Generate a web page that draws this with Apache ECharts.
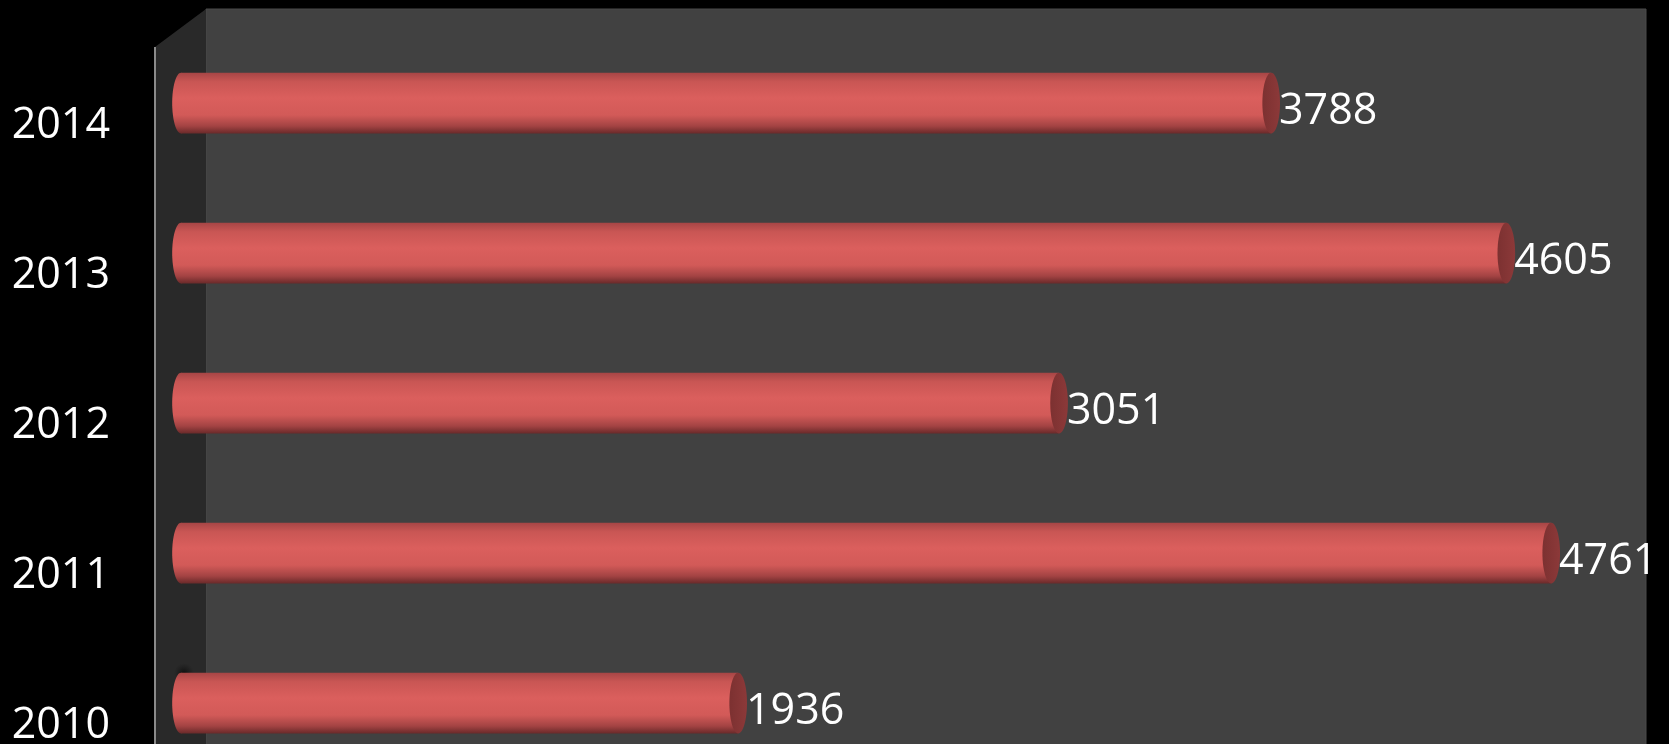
<!DOCTYPE html>
<html>
<head>
<meta charset="utf-8">
<script src="https://cdn.jsdelivr.net/npm/echarts@6/dist/echarts.min.js"></script>
<style>
  html, body { margin: 0; padding: 0; background: #000; overflow: hidden; }
  #chart { width: 1669px; height: 800px; }
</style>
</head>
<body>
<div id="chart"></div>
<script>
// Yearly totals, newest year on top
const years = ['2010', '2011', '2012', '2013', '2014'];
const totals = [1936, 4761, 3051, 4605, 3788];
const axisMax = 5000;

const FONT = '"Open Sans", "Noto Sans", sans-serif';

const chart = echarts.init(document.getElementById('chart'), null, { renderer: 'canvas' });

// shading for the cylinder body (top edge -> bottom edge)
const bodyFill = new echarts.graphic.LinearGradient(0, 0, 0, 1, [
  { offset: 0, color: '#a64545' },
  { offset: 0.15, color: '#c95654' },
  { offset: 0.42, color: '#db5f5d' },
  { offset: 0.7, color: '#d25a58' },
  { offset: 0.88, color: '#a34343' },
  { offset: 1, color: '#6a2a2a' }
]);
const capFill = new echarts.graphic.LinearGradient(0, 0, 1, 0, [
  { offset: 0, color: '#7c3131' },
  { offset: 1, color: '#8c3939' }
]);

function renderCylinder(params, api) {
  const v = api.value(0);
  const c = api.value(1);
  const p0 = api.coord([0, c]);
  const p1 = api.coord([v, c]);
  const h = api.size([0, 1])[1] * 0.405;
  const rx = h * 0.145;
  const top = p0[1] - h / 2;
  return {
    type: 'group',
    children: [
      { type: 'ellipse', shape: { cx: p0[0], cy: p0[1], rx: rx, ry: h / 2 }, style: { fill: bodyFill } },
      { type: 'rect', shape: { x: p0[0], y: top, width: p1[0] - p0[0], height: h }, style: { fill: bodyFill } },
      { type: 'ellipse', shape: { cx: p1[0], cy: p1[1], rx: rx, ry: h / 2 }, style: { fill: capFill } },
      {
        type: 'text',
        style: {
          x: p1[0] + rx - 1, y: p1[1] + 9,
          text: String(v),
          fill: '#ffffff',
          font: '43px ' + FONT,
          align: 'left', verticalAlign: 'middle'
        }
      }
    ]
  };
}

chart.setOption({
  backgroundColor: '#000000',
  animation: false,
  grid: { left: 181, right: 49, top: 28, height: 750, containLabel: false },
  xAxis: {
    type: 'value', min: 0, max: axisMax,
    show: false
  },
  yAxis: {
    type: 'category',
    data: years,
    axisLine: { show: false },
    axisTick: { show: false },
    splitLine: { show: false },
    axisLabel: {
      color: '#ffffff',
      fontFamily: FONT,
      fontSize: 43,
      margin: 71,
      verticalAlign: 'top',
      lineHeight: 46
    }
  },
  graphic: [
    // back wall
    { type: 'rect', z: 0, shape: { x: 206, y: 9, width: 1440, height: 800 },
      style: { fill: '#414141', stroke: '#4a4a4a', lineWidth: 1 } },
    // side wall
    { type: 'polygon', z: 0, shape: { points: [[155, 47], [206, 9], [206, 800], [155, 800]] },
      style: { fill: '#292929' } },
    // soft shadow on the side wall above the lowest cylinder
    { type: 'ellipse', z: 1, shape: { cx: 184, cy: 668, rx: 10, ry: 26 },
      style: { fill: new echarts.graphic.RadialGradient(0.5, 0.6, 0.5, [
        { offset: 0, color: 'rgba(10,10,10,0.85)' },
        { offset: 1, color: 'rgba(20,20,20,0)' }
      ]) } },
    // category axis line
    { type: 'line', z: 1, shape: { x1: 155, y1: 47, x2: 155, y2: 800 },
      style: { stroke: '#8a8a8a', lineWidth: 2 } }
  ],
  series: [{
    type: 'custom',
    z: 10,
    renderItem: renderCylinder,
    encode: { x: 0, y: 1 },
    data: totals.map((v, i) => [v, i])
  }]
});
</script>
</body>
</html>
